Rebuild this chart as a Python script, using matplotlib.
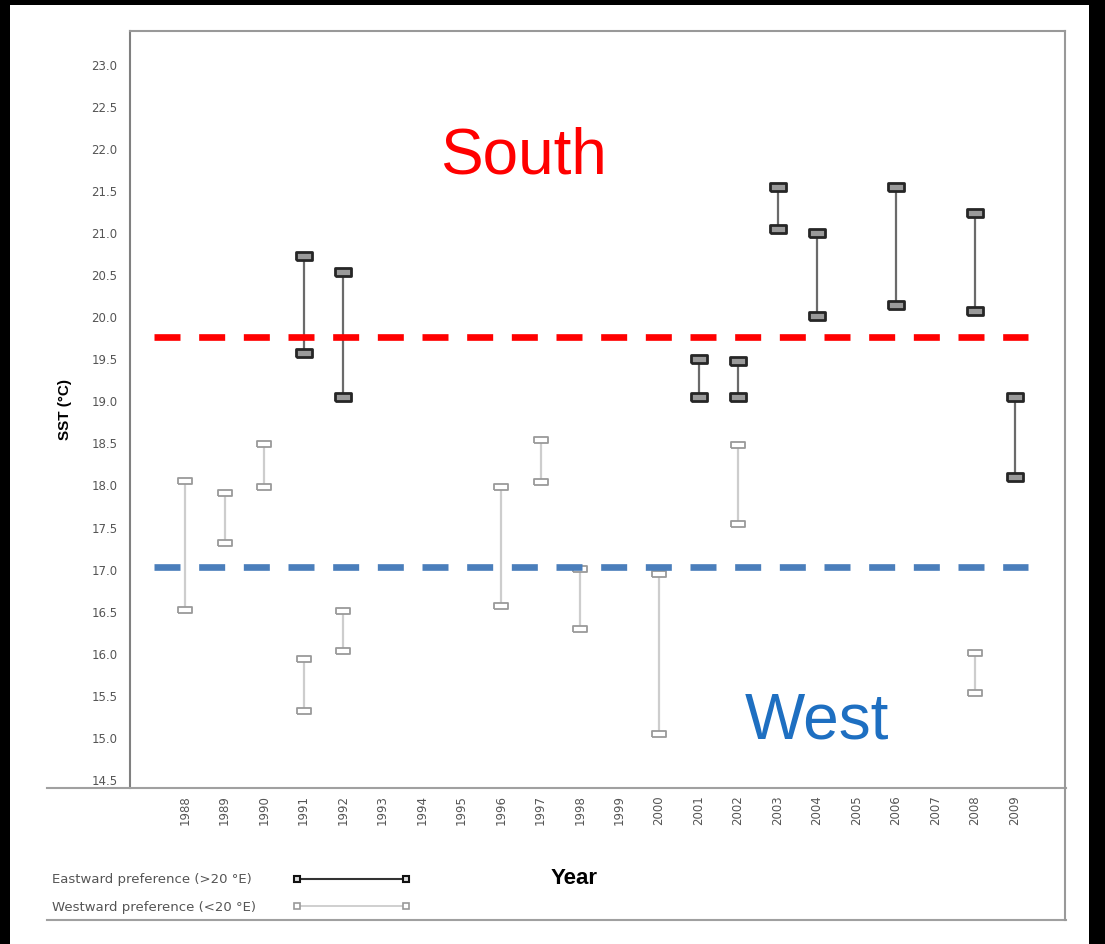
import numpy as np
import matplotlib
matplotlib.use("Agg")
import matplotlib.pyplot as plt
from matplotlib.lines import Line2D
from matplotlib.patches import Rectangle

# data
years = list(range(1988, 2010))

east_years = [1991, 1992, 2001, 2002, 2003, 2004, 2006, 2008, 2009]
east_high = [20.73, 20.54, 19.50, 19.48, 21.55, 21.00, 21.55, 21.24, 19.05]
east_low = [19.58, 19.05, 19.05, 19.05, 21.05, 20.02, 20.15, 20.07, 18.10]

west_years = [1988, 1989, 1990, 1991, 1992, 1996, 1997, 1998, 2000, 2002, 2008]
west_high = [18.05, 17.91, 18.49, 15.94, 16.51, 17.98, 18.54, 17.01, 16.95, 18.48, 16.01]
west_low = [16.52, 17.32, 17.98, 15.32, 16.03, 16.57, 18.04, 16.29, 15.05, 17.54, 15.53]

south_line = 19.76
west_line = 17.03

yticks = np.arange(14.5, 23.01, 0.5)

W, H = 1105, 944
fig = plt.figure(figsize=(W / 100, H / 100), dpi=100)
fig.patch.set_facecolor("black")
plt.rcParams['font.family'] = ['Liberation Sans', 'DejaVu Sans']

def fx(px):
    return px / W

def fy(py):
    return 1 - py / H

# white page inside the black frame
fig.add_artist(Rectangle((fx(10), 0), fx(1089) - fx(10), fy(5), transform=fig.transFigure,
                         facecolor="white", edgecolor="none", zorder=0))

ax = fig.add_axes([fx(130), fy(788), fx(1065) - fx(130), fy(31) - fy(788)])
ax.set_facecolor("white")

# rectangle marker, wider than tall
rect = [(-1, -0.5), (1, -0.5), (1, 0.5), (-1, 0.5), (-1, -0.5)]

pos = {y: i for i, y in enumerate(years)}

for yr, hi, lo in zip(west_years, west_high, west_low):
    ax.plot([pos[yr], pos[yr]], [lo, hi], color="#cdcdcd", lw=1.6, zorder=2,
            marker=rect, markersize=10, markerfacecolor="white",
            markeredgecolor="#9a9a9a", markeredgewidth=1.3)

for yr, hi, lo in zip(east_years, east_high, east_low):
    ax.plot([pos[yr], pos[yr]], [lo, hi], color="#6a6a6a", lw=1.6, zorder=3,
            marker=rect, markersize=11, markerfacecolor="#9a9a9a",
            markeredgecolor="#262626", markeredgewidth=2)

x0, x1 = (154 - 185) / 39.5, (1028 - 185) / 39.5
ax.plot([x0, x1], [south_line, south_line], color="#ff0000", lw=4.8,
        dashes=(3.9, 2.8), solid_capstyle="butt", dash_capstyle="butt", zorder=4)
ax.plot([x0, x1], [west_line, west_line], color="#4a7ebb", lw=4.8,
        dashes=(3.9, 2.8), solid_capstyle="butt", dash_capstyle="butt", zorder=4)

ax.set_xlim((130 - 185) / 39.5, (1065 - 185) / 39.5)
ax.set_ylim(14.403, 23.404)
ax.set_yticks(yticks)
ax.set_yticklabels([f"{v:.1f}" for v in yticks], fontsize=8.5, color="#555555",
                   family="DejaVu Sans")
ax.set_xticks(range(len(years)))
ax.set_xticklabels([str(y) for y in years], rotation=90, fontsize=8.5, color="#555555",
                   family="DejaVu Sans")
ax.tick_params(axis="both", length=0)
ax.tick_params(axis="y", pad=9)
ax.tick_params(axis="x", pad=5)

for s in ["left", "top", "right"]:
    ax.spines[s].set_color("#999999")
    ax.spines[s].set_linewidth(1.5)
ax.spines["left"].set_color("#808080")
ax.spines["bottom"].set_visible(False)

ax.set_ylabel("SST (°C)", fontsize=11, fontweight="bold", labelpad=14)

ax.text((523 - 185) / 39.5, 21.91, "South", color="#ff0000", fontsize=46,
        ha="center", va="center")
ax.text((817 - 185) / 39.5, 15.19, "West", color="#1e6fc1", fontsize=46,
        ha="center", va="center")

# lower box
for y in (788, 920):
    fig.add_artist(Line2D([fx(47), fx(1066)], [fy(y), fy(y)], color="#a0a0a0", lw=1.5,
                          transform=fig.transFigure))
fig.add_artist(Line2D([fx(1065), fx(1065)], [fy(788), fy(920)], color="#999999", lw=1.5,
                      transform=fig.transFigure))

fig.text(fx(574), fy(879), "Year", fontsize=16, fontweight="bold", ha="center", va="center")

# legend
fig.text(fx(52), fy(879), "Eastward preference (>20 °E)", fontsize=9.5, color="#555555",
         ha="left", va="center", family="DejaVu Sans")
fig.text(fx(52), fy(907), "Westward preference (<20 °E)", fontsize=9.5, color="#555555",
         ha="left", va="center", family="DejaVu Sans")
fig.add_artist(Line2D([fx(297), fx(406)], [fy(879), fy(879)], color="#333333", lw=1.5,
                      marker="s", markersize=5, markerfacecolor="#dddddd",
                      markeredgecolor="#111111", markeredgewidth=1.5,
                      transform=fig.transFigure))
fig.add_artist(Line2D([fx(297), fx(406)], [fy(906), fy(906)], color="#cccccc", lw=1.3,
                      marker="s", markersize=5, markerfacecolor="white",
                      markeredgecolor="#999999", markeredgewidth=1.2,
                      transform=fig.transFigure))

fig.savefig("out.png", dpi=100, facecolor=fig.get_facecolor())
